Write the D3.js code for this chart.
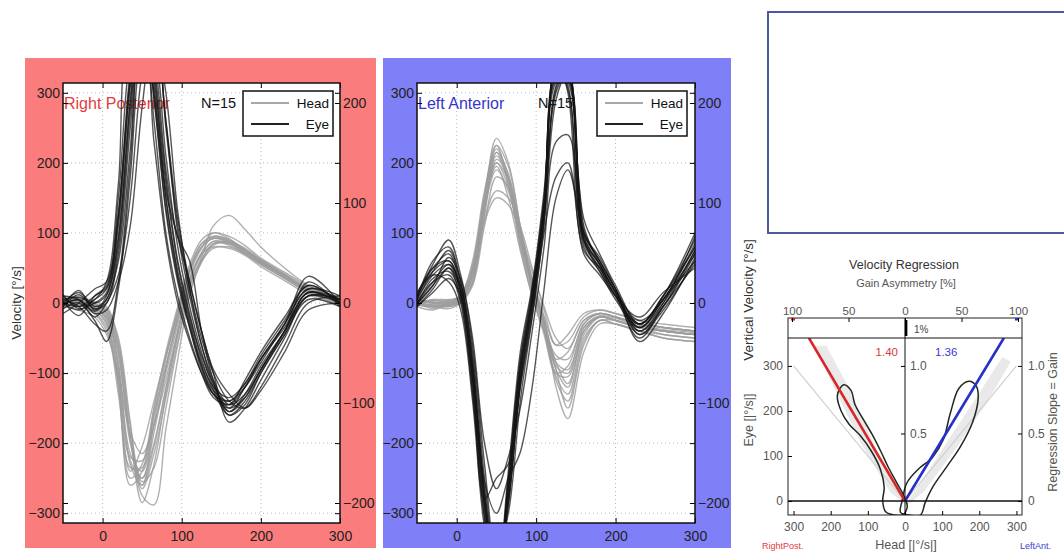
<!DOCTYPE html>
<html>
<head>
<meta charset="utf-8">
<script src="https://cdn.jsdelivr.net/npm/d3@7"></script>
<style>
  html, body { margin: 0; padding: 0; background: #fff; }
  svg { display: block; font-family: "Liberation Sans", Arial, Helvetica, sans-serif; }
</style>
</head>
<body>
<svg id="fig" width="1064" height="557"></svg>
<script>
// ---------- data ----------
// sample times of every trace [ms]
const timeMs = [-50, -30, -10, 5, 20, 35, 50, 65, 80, 95, 110, 125, 140, 160, 180, 200, 230, 260, 300];
const velTicks = [-300, -200, -100, 0, 100, 200, 300];
const rightTicks = [-200, -100, 0, 100, 200];
const timeTicks = [0, 100, 200, 300];

// Right posterior canal impulses: head and eye velocity [deg/s]
const rpHead = [
  [0, 8, -4, -10, -60, -190, -285, -230, -130, -45, 30, 70, 88, 82, 70, 55, 35, 15, -2],
  [-5, 3, -8, -20, -95, -230, -260, -170, -90, -20, 45, 80, 92, 86, 72, 58, 38, 18, 2],
  [5, 0, -10, -30, -120, -260, -240, -150, -70, -5, 55, 90, 100, 92, 75, 60, 40, 20, 5],
  [2, 10, 0, -8, -50, -170, -275, -288, -180, -80, 10, 60, 85, 85, 72, 58, 38, 20, 0],
  [-8, -2, -15, -40, -110, -220, -225, -160, -90, -25, 35, 70, 80, 78, 68, 52, 32, 12, -5],
  [3, 6, -2, -12, -70, -200, -250, -200, -120, -40, 25, 65, 110, 125, 105, 80, 50, 25, 5],
  [-3, 2, -6, -18, -85, -215, -240, -175, -100, -30, 35, 72, 95, 90, 76, 60, 40, 18, 0],
  [0, 5, -12, -35, -130, -240, -205, -140, -75, -15, 45, 80, 92, 88, 75, 62, 42, 22, 8],
  [6, 4, -3, -15, -75, -195, -265, -215, -135, -55, 20, 62, 84, 84, 70, 56, 36, 16, -2],
  [-4, -10, -20, -45, -100, -185, -215, -175, -110, -40, 25, 60, 78, 80, 70, 55, 35, 15, -3],
  [2, 8, 2, -5, -55, -175, -255, -235, -150, -60, 15, 58, 82, 88, 78, 62, 40, 18, 0],
  [-2, 0, -8, -22, -90, -225, -250, -185, -95, -20, 42, 78, 100, 95, 82, 64, 44, 24, 6],
  [4, 2, -5, -25, -105, -235, -235, -160, -80, -10, 50, 85, 95, 90, 76, 60, 40, 20, 4],
  [-6, 4, -2, -14, -65, -190, -260, -205, -125, -45, 30, 68, 88, 86, 74, 58, 38, 18, 1],
  [1, 3, -9, -28, -115, -250, -230, -150, -75, -12, 48, 84, 94, 88, 74, 58, 38, 18, 3]
];
const rpEye = [
  [0, -10, 5, 20, 120, 330, 420, 300, 150, 40, -30, -90, -130, -150, -120, -80, -30, 20, 5],
  [10, 5, -20, 0, 40, 150, 330, 400, 260, 100, 10, -60, -110, -145, -130, -95, -40, 10, 0],
  [-5, 18, -10, 10, 90, 290, 430, 340, 180, 60, -15, -80, -125, -160, -140, -100, -45, 5, -5],
  [5, -5, -30, -40, 30, 200, 380, 400, 250, 110, 20, -50, -100, -140, -150, -120, -60, 0, 10],
  [-15, 0, 20, 30, 150, 350, 400, 260, 100, 10, -50, -100, -135, -145, -110, -70, -20, 25, 0],
  [0, 15, -5, 5, 80, 270, 410, 330, 160, 94, 30, -40, -100, -170, -150, -110, -50, 10, 5],
  [12, -8, 0, 15, 110, 310, 420, 310, 150, 45, -25, -85, -120, -135, -115, -80, -35, 15, 0],
  [-3, 5, -15, -10, 30, 110, 280, 390, 300, 130, 20, -60, -115, -150, -135, -95, -40, 30, -5],
  [3, -18, 10, 25, 130, 320, 410, 290, 130, 30, -35, -90, -125, -140, -120, -85, -30, 20, 10],
  [-8, 0, -25, -55, 20, 180, 360, 390, 260, 120, 30, -40, -95, -130, -150, -125, -70, -10, 0],
  [5, 8, 0, 12, 95, 285, 415, 320, 170, 55, -20, -75, -115, -155, -130, -90, -40, 15, 5],
  [0, -5, 5, 30, 170, 380, 380, 230, 90, 0, -55, -100, -130, -140, -115, -75, -25, 25, 0],
  [-5, 12, -8, 0, 70, 250, 400, 350, 190, 94, 60, -40, -110, -160, -145, -100, -45, 10, 5],
  [10, -5, 10, 22, 125, 315, 415, 295, 135, 35, -35, -95, -130, -145, -120, -80, -30, 38, 0],
  [-2, 4, -12, 5, 60, 220, 390, 360, 210, 80, -5, -70, -120, -155, -135, -95, -40, 15, 0]
];

// Left anterior canal impulses: head and eye velocity [deg/s]
const laHead = [
  [0, -5, 0, 5, 45, 150, 235, 200, 110, 30, -30, -95, -120, -40, -20, -25, -35, -40, -45],
  [5, 0, -5, 0, 30, 130, 215, 185, 100, 25, -35, -110, -140, -55, -25, -30, -40, -45, -50],
  [-5, -10, 0, 10, 60, 160, 225, 170, 80, 10, -45, -100, -90, -30, -15, -20, -30, -35, -40],
  [0, 5, 5, 8, 40, 135, 200, 175, 100, 30, -25, -80, -70, -25, -15, -20, -30, -35, -40],
  [-3, -5, -8, 0, 25, 110, 180, 165, 100, 35, -20, -120, -165, -70, -30, -30, -40, -50, -55],
  [2, 0, 3, 12, 55, 145, 195, 150, 75, 10, -40, -90, -100, -35, -20, -25, -35, -40, -45],
  [0, -8, -3, 4, 35, 120, 160, 150, 110, 50, -10, -60, -55, -20, -10, -15, -25, -35, -40],
  [4, 2, -2, 6, 50, 155, 220, 180, 95, 20, -35, -105, -130, -50, -25, -25, -35, -45, -50],
  [-2, -6, -4, 2, 30, 125, 205, 180, 105, 30, -25, -85, -115, -45, -20, -25, -35, -40, -45],
  [3, 0, 2, 8, 45, 140, 210, 175, 95, 25, -30, -75, -80, -30, -15, -20, -30, -40, -45],
  [-4, -2, 0, 5, 40, 135, 190, 160, 90, 25, -20, -60, -45, -15, -10, -15, -25, -30, -35],
  [1, -3, -5, 3, 38, 145, 225, 195, 110, 35, -25, -95, -150, -60, -25, -30, -40, -50, -55],
  [-1, 4, 1, 7, 50, 150, 215, 170, 85, 15, -40, -100, -105, -40, -20, -25, -35, -40, -45],
  [2, -4, -2, 3, 28, 115, 150, 140, 100, 45, -5, -50, -65, -25, -15, -20, -30, -35, -40],
  [0, 3, 4, 9, 48, 140, 200, 165, 90, 22, -30, -85, -95, -35, -18, -22, -32, -38, -42]
];
const laEye = [
  [10, 45, 60, 15, -110, -290, -400, -260, -90, 10, 140, 330, 320, 90, 50, 10, -30, 10, 80],
  [0, 30, 55, 25, -90, -270, -380, -290, -110, 0, 130, 310, 340, 100, 60, 20, -40, 0, 95],
  [5, 60, 80, 30, -70, -250, -370, -280, -120, -10, 120, 300, 330, 110, 55, 15, -45, -10, 60],
  [-5, 20, 50, 5, -130, -310, -410, -250, -80, 20, 150, 340, 310, 80, 45, 5, -35, 5, 70],
  [10, 50, 70, 20, -100, -280, -250, -230, -120, -20, 100, 180, 200, 70, 40, 10, -20, 15, 50],
  [15, 40, 30, -10, -140, -320, -390, -240, -70, 25, 160, 350, 300, 75, 50, 15, -25, 5, 85],
  [0, 25, 65, 35, -60, -230, -360, -300, -140, -20, 110, 290, 330, 120, 70, 25, -30, 10, 100],
  [8, 55, 90, 40, -50, -200, -265, -220, -150, -40, 80, 230, 240, 90, 45, 10, -50, -5, 55],
  [-3, 35, 45, 10, -115, -295, -400, -270, -100, 5, 135, 320, 320, 95, 55, 15, -35, 0, 75],
  [12, 50, 60, 20, -95, -275, -385, -280, -110, -5, 125, 315, 325, 100, 65, 20, -55, -15, 65],
  [2, 30, 40, 0, -125, -305, -395, -255, -85, 15, 145, 335, 305, 85, 50, 10, -30, 10, 90],
  [-5, 15, 35, 10, -105, -285, -390, -265, -95, 5, 140, 325, 315, 90, 55, 15, -40, -5, 70],
  [6, 45, 75, 30, -80, -255, -300, -250, -213, -120, 20, 150, 190, 100, 60, 20, -30, 5, 60],
  [4, 40, 55, 15, -100, -280, -395, -270, -100, 10, 130, 320, 325, 95, 55, 15, -35, 5, 80],
  [-2, 25, 50, 20, -85, -265, -380, -285, -115, -5, 120, 305, 335, 105, 60, 20, -45, -5, 75]
];

// Velocity regression summary
const gains = { rightPost: 1.40, leftAnt: 1.36 };
const asymmetryPct = 1;
const eyeTicks = [0, 100, 200, 300];
const headTicks = [-300, -200, -100, 0, 100, 200, 300];
const asymTicks = [-100, -50, 0, 50, 100];
const gainTicks = [0, 0.5, 1.0];
// density contours of (head, eye) samples [deg/s]
const rpContour = [[-165, 258], [-145, 245], [-135, 215], [-115, 185], [-90, 150], [-65, 110], [-45, 75], [-25, 45], [-2, 10], [6, -12], [-5, -30], [-30, -31], [-52, -24], [-60, 0], [-56, 30], [-66, 70], [-90, 110], [-120, 145], [-150, 170], [-172, 200], [-182, 235]];
const laContour = [[172, 266], [192, 255], [197, 228], [182, 175], [150, 122], [114, 78], [76, 33], [54, -4], [42, -31], [10, -31], [-12, -25], [-8, 0], [5, 40], [35, 70], [75, 98], [103, 136], [122, 195], [145, 250]];
// sample clouds of (head, eye) pairs
const rpCloud = [[0, -8], [-40, 20], [-120, 130], [-190, 250], [-242, 345], [-212, 345], [-150, 250], [-80, 120], [-20, 30], [8, -2]];
const laCloud = [[0, -8], [30, 25], [120, 140], [200, 240], [262, 320], [285, 310], [225, 225], [140, 120], [50, 20], [12, -6]];

// ---------- drawing ----------
const svg = d3.select("#fig");

function styleAxis(sel, color, size) {
  sel.attr("font-family", null).attr("font-size", null);
  sel.select(".domain").remove();
  sel.selectAll(".tick line").attr("stroke", "#000").attr("stroke-width", 1);
  sel.selectAll(".tick text").attr("fill", color).attr("font-size", size);
  return sel;
}

function tracePanel(cfg) {
  const root = svg.append("g");
  root.append("rect")
    .attr("x", cfg.bg[0]).attr("y", cfg.bg[1])
    .attr("width", cfg.bg[2]).attr("height", cfg.bg[3])
    .attr("fill", cfg.bgColor);

  const w = cfg.plot[2], h = cfg.plot[3];
  const g = root.append("g").attr("transform", `translate(${cfg.plot[0]},${cfg.plot[1]})`);
  const x = d3.scaleLinear().domain([-50, 300]).range([0, w]);
  const yL = d3.scaleLinear().domain([-314, 314]).range([h, 0]);
  const yR = d3.scaleLinear().domain([-220, 220]).range([h, 0]);

  g.append("rect").attr("width", w).attr("height", h).attr("fill", "#fff");
  g.append("clipPath").attr("id", cfg.id + "-clip")
    .append("rect").attr("width", w).attr("height", h);

  // dotted grid
  const grid = g.append("g").attr("stroke", "#b8b8b8").attr("stroke-width", 1)
    .attr("stroke-dasharray", "1,3");
  grid.selectAll("line.gx").data(timeTicks).join("line")
    .attr("x1", d => x(d)).attr("x2", d => x(d)).attr("y1", 0).attr("y2", h);
  grid.selectAll("line.gy").data(velTicks).join("line")
    .attr("y1", d => yL(d)).attr("y2", d => yL(d)).attr("x1", 0).attr("x2", w);

  // canal name and trial count (drawn beneath the traces)
  g.append("text").attr("x", 1).attr("y", 26).attr("font-size", 16)
    .attr("fill", cfg.titleColor).text(cfg.title);
  g.append("text").attr("x", cfg.nX).attr("y", 25).attr("font-size", 14.5)
    .attr("fill", "#111").text("N=15");

  const line = d3.line()
    .x((d, i) => x(timeMs[i]))
    .y(d => yL(d))
    .curve(d3.curveCatmullRom.alpha(0.5));
  const traces = g.append("g").attr("clip-path", `url(#${cfg.id}-clip)`).attr("fill", "none");
  traces.selectAll("path.head").data(cfg.head).join("path").attr("class", "head")
    .attr("d", line).attr("stroke", "#9c9c9c").attr("stroke-width", 1.4).attr("stroke-opacity", 0.8);
  traces.selectAll("path.eye").data(cfg.eye).join("path").attr("class", "eye")
    .attr("d", line).attr("stroke", "#151515").attr("stroke-width", 1.4).attr("stroke-opacity", 0.72);

  // axes with inward ticks on every side
  styleAxis(g.append("g").call(d3.axisLeft(yL).tickValues(velTicks).tickSize(-5).tickPadding(3)), "#222", 14);
  styleAxis(g.append("g").call(d3.axisLeft(yR).tickValues(rightTicks).tickSize(-5).tickFormat("")), "#222", 12);
  styleAxis(g.append("g").attr("transform", `translate(${w},0)`)
    .call(d3.axisRight(yR).tickValues(rightTicks).tickSize(-5).tickPadding(3)), "#222", 14);
  styleAxis(g.append("g").attr("transform", `translate(${w},0)`)
    .call(d3.axisRight(yL).tickValues(velTicks).tickSize(-5).tickFormat("")), "#222", 12);
  styleAxis(g.append("g").attr("transform", `translate(0,${h})`)
    .call(d3.axisBottom(x).tickValues(timeTicks).tickSize(-5).tickPadding(8)), "#222", 14);
  styleAxis(g.append("g").call(d3.axisTop(x).tickValues(timeTicks).tickSize(-5).tickFormat("")), "#222", 12);

  g.append("rect").attr("width", w).attr("height", h).attr("fill", "none")
    .attr("stroke", "#111").attr("stroke-width", 1.5);

  // legend
  const lg = g.append("g").attr("transform", "translate(180,8)");
  lg.append("rect").attr("width", 90).attr("height", 45).attr("fill", "#fff")
    .attr("stroke", "#111").attr("stroke-width", 1.5);
  [["Head", "#a8a8a8", 12], ["Eye", "#222", 33]].forEach(([lab, col, yy]) => {
    lg.append("line").attr("x1", 8).attr("x2", 46).attr("y1", yy).attr("y2", yy)
      .attr("stroke", col).attr("stroke-width", 1.8);
    lg.append("text").attr("x", 86).attr("y", yy + 5).attr("text-anchor", "end")
      .attr("font-size", 13.5).attr("fill", "#111").text(lab);
  });
}

tracePanel({
  id: "rp", bg: [25, 58, 351, 490], bgColor: "#fa7c7c", plot: [63, 83, 277, 440],
  title: "Right Posterior", titleColor: "#e23c40", nX: 138, head: rpHead, eye: rpEye
});
tracePanel({
  id: "la", bg: [383, 58, 348, 490], bgColor: "#7f7ff7", plot: [417, 83, 278, 440],
  title: "Left Anterior", titleColor: "#3434cc", nX: 121, head: laHead, eye: laEye
});

svg.append("text").attr("transform", "translate(21,303) rotate(-90)")
  .attr("text-anchor", "middle").attr("font-size", 13.5).attr("fill", "#333").text("Velocity [°/s]");
svg.append("text").attr("transform", "translate(753,300) rotate(-90)")
  .attr("text-anchor", "middle").attr("font-size", 13.5).attr("fill", "#333").text("Vertical Velocity [°/s]");

// empty framed panel, top right
svg.append("rect").attr("x", 768).attr("y", 12).attr("width", 320).attr("height", 221)
  .attr("fill", "#fff").attr("stroke", "#4b5a9b").attr("stroke-width", 2);

// ---------- velocity regression ----------
(function regression() {
  const L = 788, R = 1022, T = 318, S = 338, B = 515;
  const hx = d3.scaleLinear().domain([-315, 315]).range([L, R]);
  const ey = d3.scaleLinear().domain([-31, 362]).range([B, S]);
  const ax = d3.scaleLinear().domain([-100, 100]).range([792, 1018]);
  const gy = d3.scaleLinear().domain([0, 1]).range([ey(0), ey(300)]);
  const g = svg.append("g");

  g.append("clipPath").attr("id", "reg-clip").append("rect")
    .attr("x", L).attr("y", S).attr("width", R - L).attr("height", B - S);
  const body = g.append("g").attr("clip-path", "url(#reg-clip)");

  const poly = d3.line().x(d => hx(d[0])).y(d => ey(d[1]));
  const closed = d3.line().x(d => hx(d[0])).y(d => ey(d[1])).curve(d3.curveCatmullRomClosed.alpha(0.5));

  body.selectAll("path.cloud").data([rpCloud, laCloud]).join("path")
    .attr("d", d => poly(d) + "Z").attr("fill", "#dadada").attr("fill-opacity", 0.6);

  // unity-gain reference lines
  body.append("path").attr("d", poly([[-300, 300], [0, 0], [300, 300]]))
    .attr("fill", "none").attr("stroke", "#d0d0d0").attr("stroke-width", 1.2);

  body.selectAll("path.contour").data([rpContour, laContour]).join("path")
    .attr("d", closed).attr("fill", "none").attr("stroke", "#1f2a1f").attr("stroke-width", 1.5);

  // regression lines: eye = gain * |head|
  const topEye = 362;
  body.append("line").attr("x1", hx(0)).attr("y1", ey(0))
    .attr("x2", hx(-topEye / gains.rightPost)).attr("y2", ey(topEye))
    .attr("stroke", "#d8262b").attr("stroke-width", 2.6);
  body.append("line").attr("x1", hx(0)).attr("y1", ey(0))
    .attr("x2", hx(topEye / gains.leftAnt)).attr("y2", ey(topEye))
    .attr("stroke", "#2430c8").attr("stroke-width", 2.6);

  // frame lines
  g.append("line").attr("x1", L).attr("x2", R).attr("y1", ey(0)).attr("y2", ey(0))
    .attr("stroke", "#111").attr("stroke-width", 1.6);
  g.append("line").attr("x1", hx(0)).attr("x2", hx(0)).attr("y1", T).attr("y2", B)
    .attr("stroke", "#111").attr("stroke-width", 1);
  g.append("line").attr("x1", L).attr("x2", R).attr("y1", S).attr("y2", S)
    .attr("stroke", "#111").attr("stroke-width", 1);
  g.append("rect").attr("x", L).attr("y", T).attr("width", R - L).attr("height", B - T)
    .attr("fill", "none").attr("stroke", "#222").attr("stroke-width", 1);

  // gain asymmetry strip
  g.append("line").attr("x1", ax(asymmetryPct)).attr("x2", ax(asymmetryPct))
    .attr("y1", T + 2).attr("y2", S - 2).attr("stroke", "#000").attr("stroke-width", 2.5);
  g.append("text").attr("x", 914).attr("y", 333).attr("font-size", 10).attr("fill", "#444")
    .text(asymmetryPct + "%");
  g.append("rect").attr("x", ax(-100) - 1).attr("y", T).attr("width", 4).attr("height", 2.5).attr("fill", "#d8262b");
  g.append("rect").attr("x", ax(100) - 3).attr("y", T).attr("width", 4).attr("height", 2.5).attr("fill", "#2430c8");

  const grey = "#555";
  styleAxis(g.append("g").attr("transform", `translate(${L},0)`)
    .call(d3.axisLeft(ey).tickValues(eyeTicks).tickSize(-4).tickPadding(5)), grey, 12);
  styleAxis(g.append("g").attr("transform", `translate(0,${B})`)
    .call(d3.axisBottom(hx).tickValues(headTicks).tickSize(-4).tickPadding(7).tickFormat(d => Math.abs(d))), grey, 12);
  styleAxis(g.append("g").attr("transform", `translate(0,${T})`)
    .call(d3.axisTop(ax).tickValues(asymTicks).tickSize(-4).tickPadding(3).tickFormat(d => Math.abs(d))), grey, 11.5);
  styleAxis(g.append("g").attr("transform", `translate(${R},0)`)
    .call(d3.axisRight(gy).tickValues(gainTicks).tickSize(-4).tickPadding(6)
      .tickFormat(d => d === 0 ? "0" : d3.format(".1f")(d))), grey, 12);
  styleAxis(g.append("g").attr("transform", `translate(${hx(0)},0)`)
    .call(d3.axisRight(gy).tickValues([0.5, 1.0]).tickSize(-4).tickPadding(5)
      .tickFormat(d3.format(".1f"))), grey, 12);

  g.append("text").attr("x", 898).attr("y", 356).attr("text-anchor", "end")
    .attr("font-size", 11.5).attr("fill", "#d8383c").text(gains.rightPost.toFixed(2));
  g.append("text").attr("x", 935).attr("y", 356)
    .attr("font-size", 11.5).attr("fill", "#3a3ad0").text(gains.leftAnt.toFixed(2));

  g.append("text").attr("x", 904).attr("y", 269).attr("text-anchor", "middle")
    .attr("font-size", 12.5).attr("fill", "#333").text("Velocity Regression");
  g.append("text").attr("x", 906).attr("y", 287).attr("text-anchor", "middle")
    .attr("font-size", 11).attr("fill", "#555").text("Gain Asymmetry [%]");
  g.append("text").attr("x", 906).attr("y", 549).attr("text-anchor", "middle")
    .attr("font-size", 12.5).attr("fill", "#555").text("Head [|°/s|]");
  g.append("text").attr("x", 762).attr("y", 549)
    .attr("font-size", 9).attr("fill", "#e04040").text("RightPost.");
  g.append("text").attr("x", 1020).attr("y", 549)
    .attr("font-size", 9).attr("fill", "#3a3ad0").text("LeftAnt.");
  g.append("text").attr("transform", "translate(753,420) rotate(-90)").attr("text-anchor", "middle")
    .attr("font-size", 12.5).attr("fill", "#555").text("Eye [|°/s|]");
  g.append("text").attr("transform", "translate(1057,422) rotate(-90)").attr("text-anchor", "middle")
    .attr("font-size", 12.5).attr("fill", "#555").text("Regression Slope = Gain");
})();
</script>
</body>
</html>
